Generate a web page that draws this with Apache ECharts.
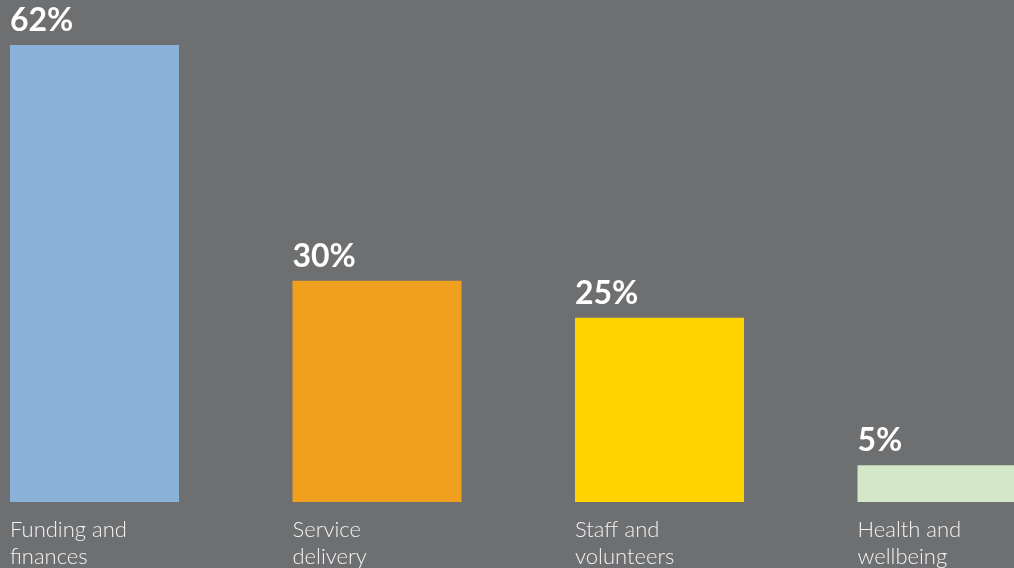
<!DOCTYPE html>
<html>
<head>
<meta charset="utf-8">
<script src="https://cdn.jsdelivr.net/npm/echarts@6/dist/echarts.min.js"></script>
<style>
  html, body { margin: 0; padding: 0; background: #6e6f71; }
  #chart { width: 1014px; height: 568px; }
</style>
</head>
<body>
<div id="chart"></div>
<script>
// Share of respondents naming each area as a main challenge
const categories = ['Funding and\nfinances', 'Service\ndelivery', 'Staff and\nvolunteers', 'Health and\nwellbeing'];
const shares = [62, 30, 25, 5];
const barColors = ['#8bb2d8', '#f0a01f', '#ffd300', '#d4e7c9'];

const chart = echarts.init(document.getElementById('chart'));

chart.setOption({
  backgroundColor: '#6e6f71',
  animation: false,
  grid: [
    // bars: each category band is 282.5px, bar sits centred in it
    { left: -46.75, width: 1130, top: 45, height: 457, outerBoundsMode: 'none', containLabel: false },
    // category captions: ticks fall on each bar's left edge
    { left: 10, width: 847.5, top: 45, height: 457, outerBoundsMode: 'none', containLabel: false }
  ],
  xAxis: [
    {
      type: 'category', gridIndex: 0, data: categories,
      axisLine: { show: false }, axisTick: { show: false }, axisLabel: { show: false },
      splitLine: { show: false }
    },
    {
      type: 'category', gridIndex: 1, data: categories, boundaryGap: false,
      axisLine: { show: false }, axisTick: { show: false }, splitLine: { show: false },
      axisLabel: {
        interval: 0, align: 'left', verticalAlign: 'top', margin: 14,
        color: '#f2f2f2', fontFamily: 'Lato', fontWeight: 300, fontSize: 22, lineHeight: 27
      }
    }
  ],
  yAxis: [
    { type: 'value', gridIndex: 0, min: 0, max: 62, show: false },
    { type: 'value', gridIndex: 1, min: 0, max: 62, show: false }
  ],
  series: [{
    type: 'bar',
    xAxisIndex: 0, yAxisIndex: 0,
    barWidth: 169,
    data: shares.map((v, i) => ({ value: v, itemStyle: { color: barColors[i] } })),
    label: {
      show: true,
      position: [0, -8],
      align: 'left',
      verticalAlign: 'bottom',
      formatter: '{c}%',
      color: '#ffffff',
      fontFamily: 'Lato',
      fontWeight: 'bold',
      fontSize: 32
    }
  }]
});
</script>
</body>
</html>
